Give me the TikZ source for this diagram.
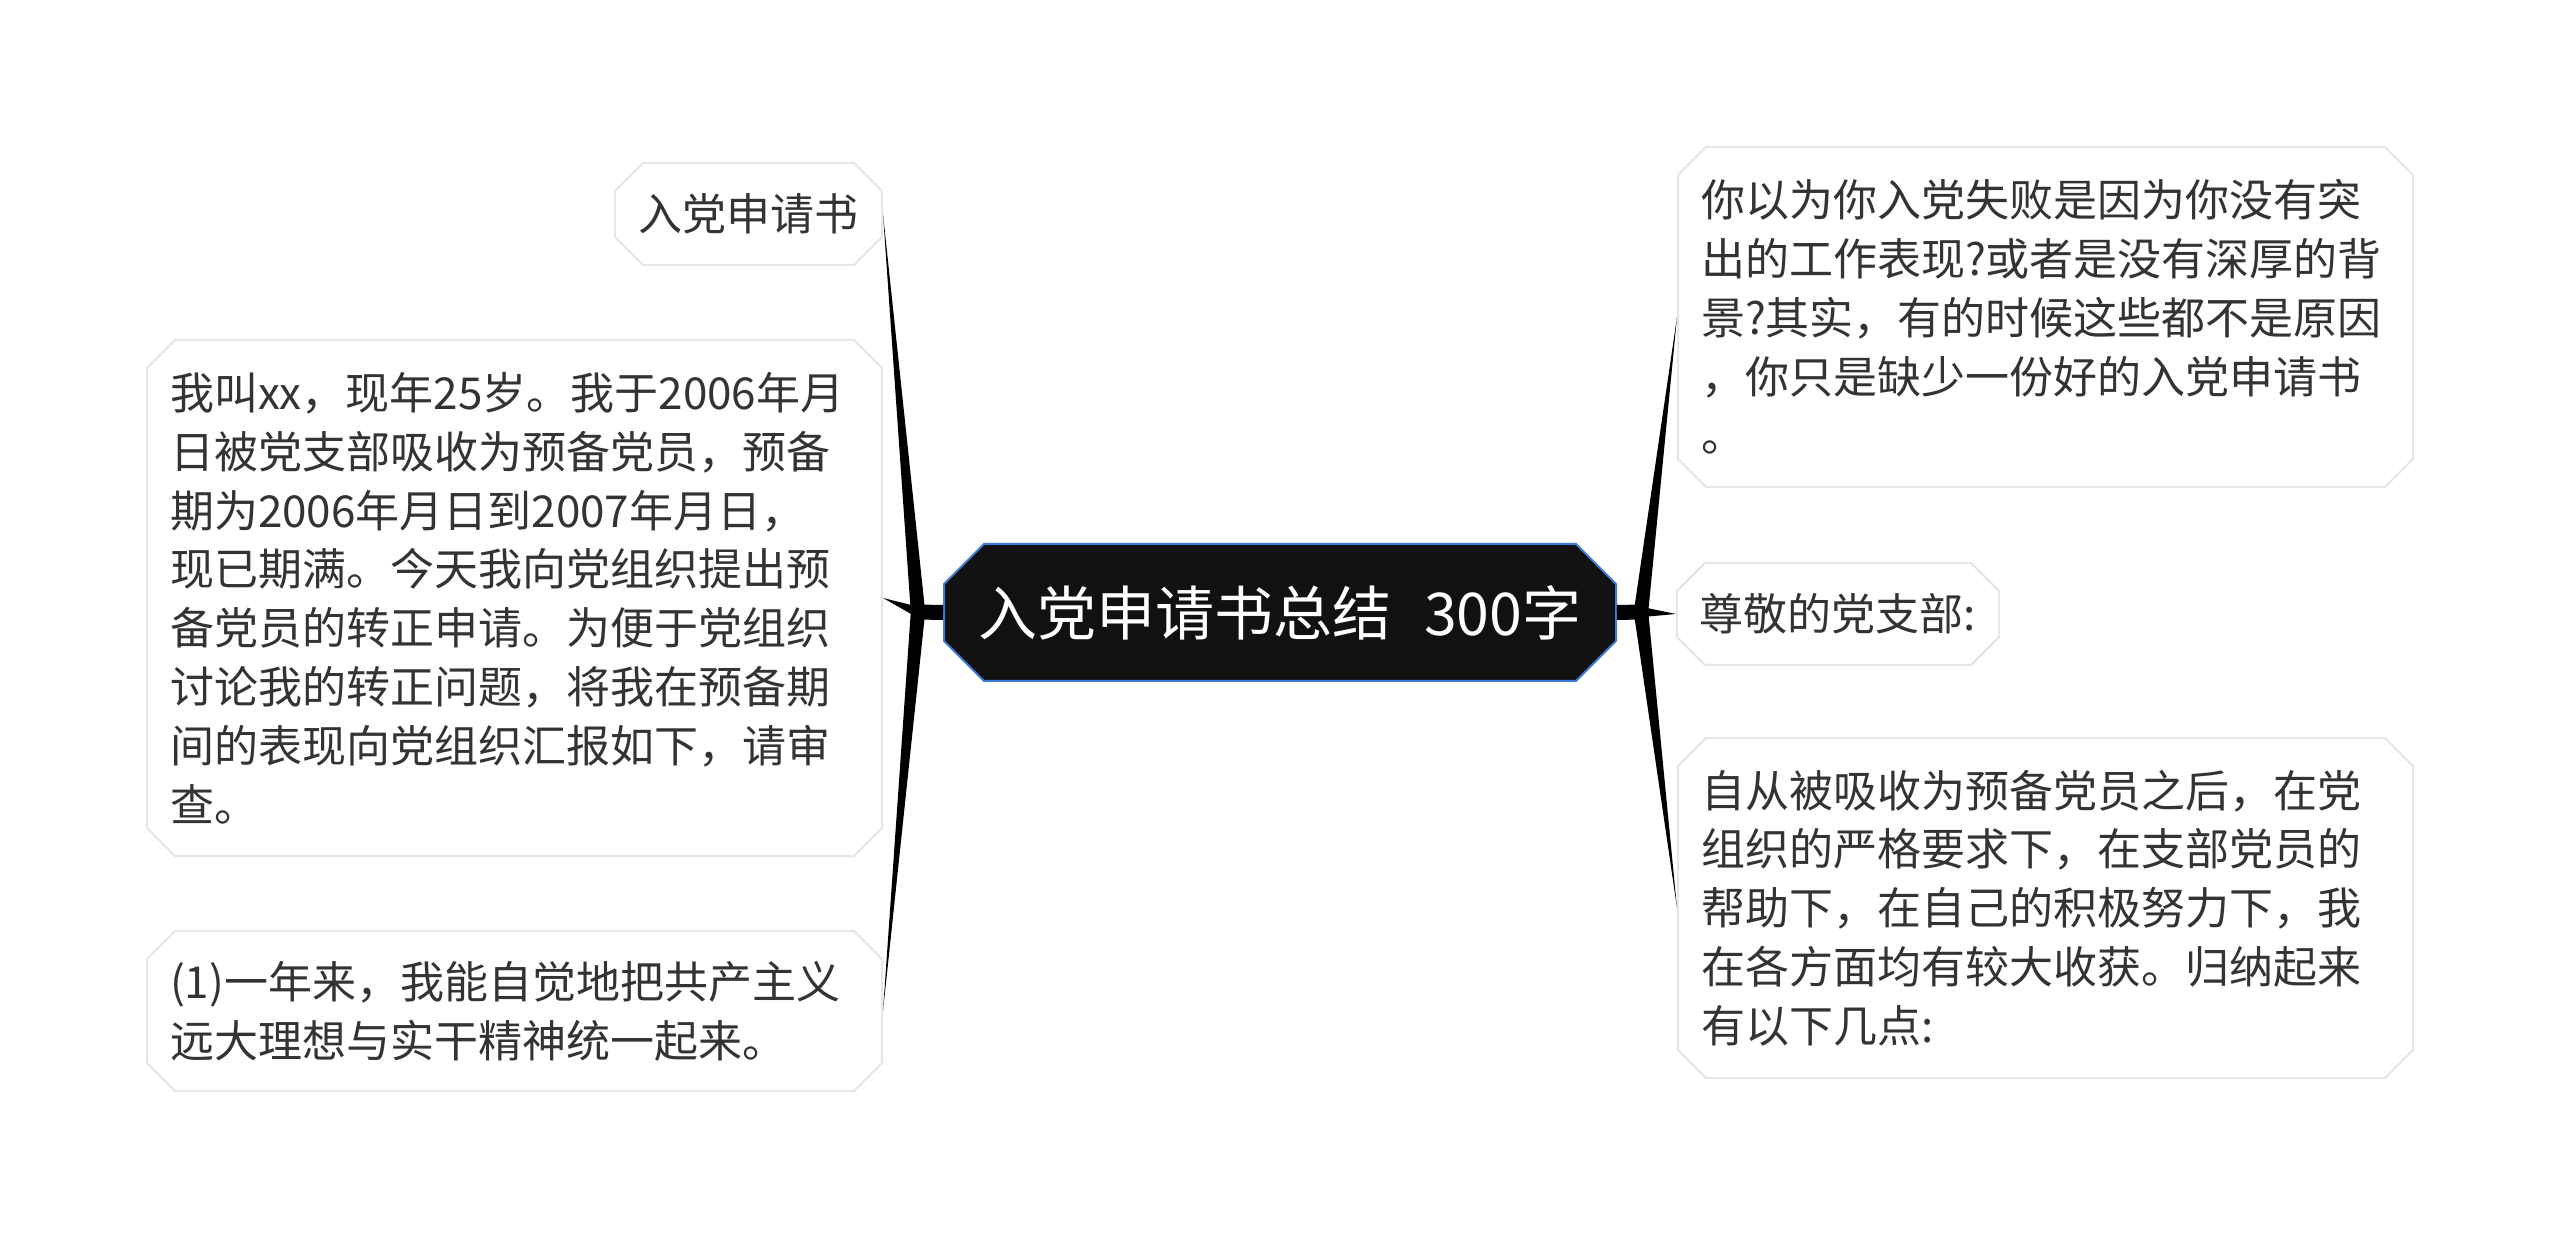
\documentclass[tikz,border=0pt]{standalone}
\usepackage{fontspec}
\setmainfont{Noto Sans CJK SC}
\usetikzlibrary{shapes.misc,positioning,calc}
\definecolor{rootfill}{HTML}{111111}
\definecolor{rootline}{HTML}{3D7BD6}
\definecolor{boxline}{HTML}{E6E6E6}
\definecolor{txtcol}{HTML}{333333}
\tikzstyle{topic} = [draw=boxline, fill=white, line width=1pt, chamfered rectangle, chamfered rectangle xsep=7pt, chamfered rectangle ysep=7pt, inner xsep=4.5pt, inner ysep=2pt, align=left, text=txtcol, font=\fontsize{22pt}{29.4pt}\selectfont]
\tikzstyle{wide} = [text width=344.5pt, minimum width=367.5pt]
\tikzstyle{rootbox} = [draw=rootline, fill=rootfill, line width=1pt, chamfered rectangle, chamfered rectangle xsep=10pt, chamfered rectangle ysep=10pt, minimum width=336pt, minimum height=68.5pt, inner sep=2pt, text=white, font=\fontsize{29.5pt}{34pt}\selectfont]
\newcommand{\branch}[3]{% junction, tip, half width
  \fill ($(#1)!#3!90:(#2)$) -- (#2) -- ($(#1)!#3!-90:(#2)$) -- cycle;}

\begin{document}
\begin{tikzpicture}[x=0.5pt, y=-0.5pt]
  \useasboundingbox[fill=white] (0,0) rectangle (2560,1240);

  % central topic
  \node [rootbox] (root) at (1280,612.5) {入党申请书总结\hspace{0.55em}300字};

  % left side
  \node [topic, minimum width=133.5pt, minimum height=51pt, align=center] (l1) at (748.5,214) {入党申请书};
  \node [topic, wide, minimum height=258pt] (l2) at (514.5,598) {我叫xx，现年25岁。我于2006年月\\日被党支部吸收为预备党员，预备\\期为2006年月日到2007年月日，\\现已期满。今天我向党组织提出预\\备党员的转正申请。为便于党组织\\讨论我的转正问题，将我在预备期\\间的表现向党组织汇报如下，请审\\查。};
  \node [topic, wide, minimum height=80pt] (l3) at (514.5,1011) {(1)一年来，我能自觉地把共产主义\\远大理想与实干精神统一起来。};

  % right side
  \node [topic, wide, minimum height=170pt] (r1) at (2045.5,317) {你以为你入党失败是因为你没有突\\出的工作表现?或者是没有深厚的背\\景?其实，有的时候这些都不是原因\\，你只是缺少一份好的入党申请书\\。};
  \node [topic, minimum width=160pt, minimum height=51pt] (r2) at (1838,614) {尊敬的党支部:};
  \node [topic, wide, minimum height=170pt] (r3) at (2045.5,908) {自从被吸收为预备党员之后，在党\\组织的严格要求下，在支部党员的\\帮助下，在自己的积极努力下，我\\在各方面均有较大收获。归纳起来\\有以下几点:};

  % branches
  \coordinate (jl) at (918,612);
  \coordinate (jr) at (1641,612);
  \draw [line width=7.5pt] (root.west) -- (jl);
  \draw [line width=7.5pt] (root.east) -- (jr);
  \fill (jl) circle (3.6pt);
  \fill (jr) circle (3.6pt);
  \branch{jl}{l1.east}{3.6pt}
  \branch{jl}{l2.east}{2.6pt}
  \branch{jl}{l3.east}{3.6pt}
  \branch{jr}{r1.west}{3.6pt}
  \branch{jr}{r2.west}{2.6pt}
  \branch{jr}{r3.west}{3.6pt}
\end{tikzpicture}
\end{document}
